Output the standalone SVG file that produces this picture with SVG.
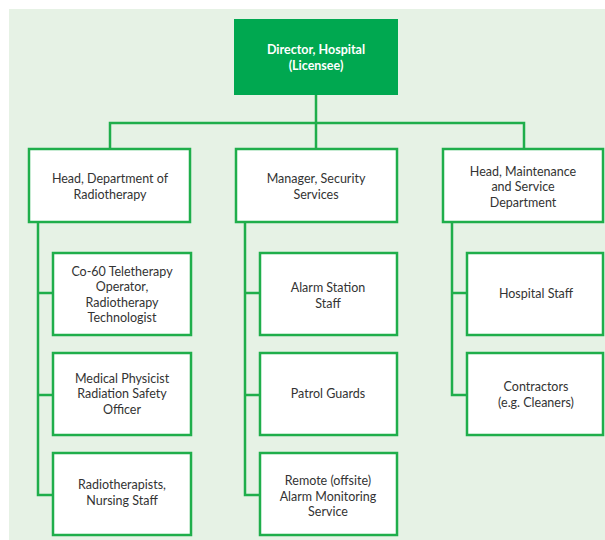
<svg xmlns="http://www.w3.org/2000/svg" width="605" height="540" viewBox="0 0 605 540">
<style>
.box{fill:#ffffff;stroke:#1fae4b;stroke-width:2.5}
.top{fill:#00a850;stroke:#00a850;stroke-width:2}
.ln{fill:none;stroke:#1fae4b;stroke-width:2.5}
text{font-family:Lato,"Noto Sans","Liberation Sans",sans-serif;font-size:12.5px;fill:#333333;text-anchor:middle}
.tt{fill:#ffffff;font-weight:bold}
</style>
<rect x="0" y="0" width="605" height="540" fill="#ffffff"/>
<rect x="9" y="9" width="596" height="531" fill="#e6f2e5"/>
<g id="connectors">
<path class="ln" d="M316 94 V149 M110 149 V123 H524 V149"/>
<path class="ln" d="M38 222 V495 H53 M38 293 H53 M38 395 H53"/>
<path class="ln" d="M245 222 V495 H260 M245 293 H260 M245 395 H260"/>
<path class="ln" d="M452 222 V395 H467 M452 293 H467"/>
</g>
<g id="director">
<rect class="top" x="235" y="20" width="162" height="74"/>
<text class="tt" x="316" y="54">Director, Hospital</text>
<text class="tt" x="316" y="70">(Licensee)</text>
</g>
<g id="head-radiotherapy">
<rect class="box" x="29" y="149" width="161" height="73"/>
<text x="110" y="183">Head, Department of</text>
<text x="110" y="199">Radiotherapy</text>
</g>
<g id="manager-security">
<rect class="box" x="236" y="149" width="161" height="73"/>
<text x="316" y="183">Manager, Security</text>
<text x="316" y="199">Services</text>
</g>
<g id="head-maintenance">
<rect class="box" x="443" y="149" width="160" height="73"/>
<text x="523" y="175.5">Head, Maintenance</text>
<text x="523" y="191">and Service</text>
<text x="523" y="206.5">Department</text>
</g>
<g id="co60">
<rect class="box" x="53" y="253" width="138" height="82"/>
<text x="122" y="275.5">Co-60 Teletherapy</text>
<text x="122" y="291">Operator,</text>
<text x="122" y="306.5">Radiotherapy</text>
<text x="122" y="322">Technologist</text>
</g>
<g id="physicist">
<rect class="box" x="53" y="353" width="138" height="82"/>
<text x="122" y="382.5">Medical Physicist</text>
<text x="122" y="398">Radiation Safety</text>
<text x="122" y="413.5">Officer</text>
</g>
<g id="radiotherapists">
<rect class="box" x="53" y="453" width="138" height="82"/>
<text x="122" y="489">Radiotherapists,</text>
<text x="122" y="504.5">Nursing Staff</text>
</g>
<g id="alarm-station">
<rect class="box" x="260" y="253" width="137" height="82"/>
<text x="328" y="292">Alarm Station</text>
<text x="328" y="307.5">Staff</text>
</g>
<g id="patrol">
<rect class="box" x="260" y="353" width="137" height="82"/>
<text x="328" y="398">Patrol Guards</text>
</g>
<g id="remote">
<rect class="box" x="260" y="453" width="137" height="82"/>
<text x="328" y="485">Remote (offsite)</text>
<text x="328" y="500.5">Alarm Monitoring</text>
<text x="328" y="516">Service</text>
</g>
<g id="hospital-staff">
<rect class="box" x="467" y="253" width="136" height="82"/>
<text x="536" y="298">Hospital Staff</text>
</g>
<g id="contractors">
<rect class="box" x="467" y="353" width="136" height="82"/>
<text x="536" y="391">Contractors</text>
<text x="536" y="406.5">(e.g. Cleaners)</text>
</g>
</svg>
